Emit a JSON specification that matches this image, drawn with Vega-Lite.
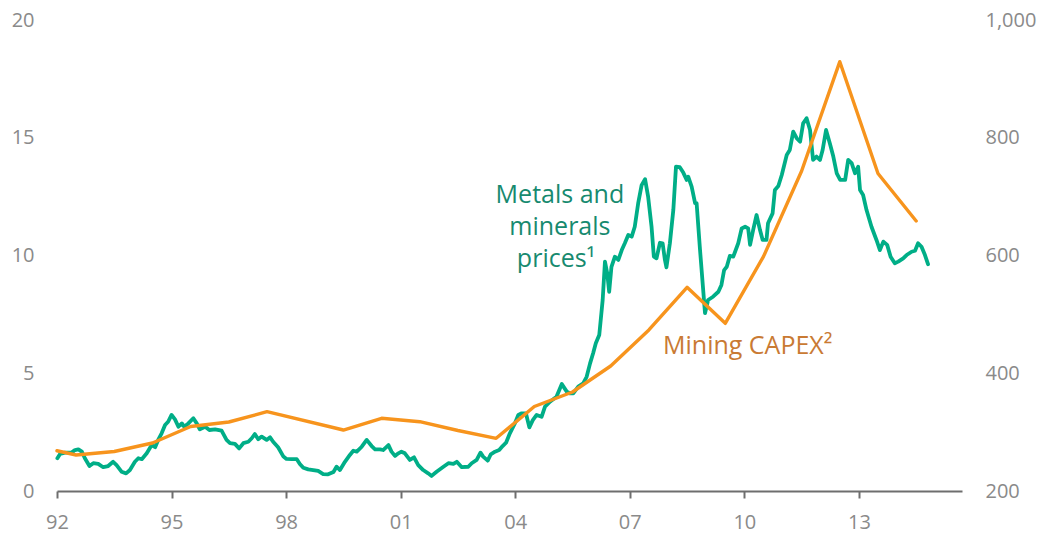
{
  "$schema": "https://vega.github.io/schema/vega-lite/v6.json",
  "width": 905,
  "height": 471,
  "autosize": {"type": "none"},
  "padding": {"left": 57, "top": 20, "right": 82, "bottom": 42},
  "background": "white",
  "config": {
    "view": {"stroke": null},
    "font": "Open Sans",
    "axis": {"labelFont": "Open Sans", "labelFontSize": 20, "labelColor": "#8a8a8a", "grid": false, "title": null}
  },
  "datasets": {
    "metals": [
      {"year": 1992.01, "price": 1.39}, {"year": 1992.08, "price": 1.57}, {"year": 1992.21, "price": 1.63}, {"year": 1992.38, "price": 1.63},
      {"year": 1992.47, "price": 1.74}, {"year": 1992.56, "price": 1.77}, {"year": 1992.65, "price": 1.67}, {"year": 1992.73, "price": 1.39},
      {"year": 1992.85, "price": 1.06}, {"year": 1992.95, "price": 1.18}, {"year": 1993.08, "price": 1.15}, {"year": 1993.21, "price": 1.01},
      {"year": 1993.34, "price": 1.06}, {"year": 1993.47, "price": 1.24}, {"year": 1993.56, "price": 1.1}, {"year": 1993.69, "price": 0.82},
      {"year": 1993.81, "price": 0.75}, {"year": 1993.91, "price": 0.89}, {"year": 1994.04, "price": 1.24}, {"year": 1994.13, "price": 1.39},
      {"year": 1994.22, "price": 1.35}, {"year": 1994.35, "price": 1.6}, {"year": 1994.48, "price": 1.95}, {"year": 1994.57, "price": 1.86},
      {"year": 1994.65, "price": 2.17}, {"year": 1994.74, "price": 2.45}, {"year": 1994.83, "price": 2.8}, {"year": 1994.91, "price": 2.94},
      {"year": 1995.0, "price": 3.23}, {"year": 1995.09, "price": 3.04}, {"year": 1995.18, "price": 2.73}, {"year": 1995.27, "price": 2.87},
      {"year": 1995.33, "price": 2.73}, {"year": 1995.44, "price": 2.87}, {"year": 1995.57, "price": 3.09}, {"year": 1995.66, "price": 2.87},
      {"year": 1995.74, "price": 2.62}, {"year": 1995.88, "price": 2.73}, {"year": 1995.99, "price": 2.59}, {"year": 1996.14, "price": 2.62},
      {"year": 1996.31, "price": 2.56}, {"year": 1996.44, "price": 2.17}, {"year": 1996.53, "price": 2.03}, {"year": 1996.66, "price": 2.0},
      {"year": 1996.77, "price": 1.81}, {"year": 1996.88, "price": 2.03}, {"year": 1997.01, "price": 2.09}, {"year": 1997.1, "price": 2.24},
      {"year": 1997.18, "price": 2.42}, {"year": 1997.27, "price": 2.2}, {"year": 1997.36, "price": 2.31}, {"year": 1997.49, "price": 2.17},
      {"year": 1997.58, "price": 2.28}, {"year": 1997.66, "price": 2.09}, {"year": 1997.79, "price": 1.86}, {"year": 1997.93, "price": 1.46},
      {"year": 1998.01, "price": 1.36}, {"year": 1998.15, "price": 1.35}, {"year": 1998.28, "price": 1.35}, {"year": 1998.36, "price": 1.15},
      {"year": 1998.45, "price": 0.99}, {"year": 1998.58, "price": 0.92}, {"year": 1998.71, "price": 0.89}, {"year": 1998.84, "price": 0.85},
      {"year": 1998.97, "price": 0.72}, {"year": 1999.1, "price": 0.71}, {"year": 1999.24, "price": 0.81}, {"year": 1999.32, "price": 1.03},
      {"year": 1999.41, "price": 0.89}, {"year": 1999.54, "price": 1.24}, {"year": 1999.67, "price": 1.53}, {"year": 1999.76, "price": 1.71},
      {"year": 1999.85, "price": 1.67}, {"year": 1999.98, "price": 1.88}, {"year": 2000.11, "price": 2.17}, {"year": 2000.24, "price": 1.91},
      {"year": 2000.33, "price": 1.77}, {"year": 2000.46, "price": 1.77}, {"year": 2000.54, "price": 1.74}, {"year": 2000.68, "price": 1.95},
      {"year": 2000.76, "price": 1.67}, {"year": 2000.85, "price": 1.49}, {"year": 2000.94, "price": 1.6}, {"year": 2001.02, "price": 1.67},
      {"year": 2001.11, "price": 1.6}, {"year": 2001.24, "price": 1.32}, {"year": 2001.35, "price": 1.43}, {"year": 2001.46, "price": 1.1},
      {"year": 2001.59, "price": 0.89}, {"year": 2001.72, "price": 0.75}, {"year": 2001.81, "price": 0.64}, {"year": 2001.94, "price": 0.82},
      {"year": 2002.12, "price": 1.03}, {"year": 2002.25, "price": 1.18}, {"year": 2002.38, "price": 1.15}, {"year": 2002.47, "price": 1.24},
      {"year": 2002.6, "price": 1.01}, {"year": 2002.77, "price": 1.03}, {"year": 2002.86, "price": 1.18}, {"year": 2002.99, "price": 1.32},
      {"year": 2003.09, "price": 1.63}, {"year": 2003.16, "price": 1.46}, {"year": 2003.28, "price": 1.29}, {"year": 2003.36, "price": 1.56},
      {"year": 2003.47, "price": 1.67}, {"year": 2003.58, "price": 1.74}, {"year": 2003.67, "price": 1.91}, {"year": 2003.76, "price": 2.05},
      {"year": 2003.86, "price": 2.45}, {"year": 2003.99, "price": 2.87}, {"year": 2004.08, "price": 3.23}, {"year": 2004.17, "price": 3.3},
      {"year": 2004.28, "price": 3.3}, {"year": 2004.37, "price": 2.7}, {"year": 2004.46, "price": 3.01}, {"year": 2004.56, "price": 3.23},
      {"year": 2004.69, "price": 3.15}, {"year": 2004.78, "price": 3.58}, {"year": 2004.91, "price": 3.79}, {"year": 2005.08, "price": 4.0},
      {"year": 2005.22, "price": 4.54}, {"year": 2005.35, "price": 4.22}, {"year": 2005.43, "price": 4.15}, {"year": 2005.52, "price": 4.15},
      {"year": 2005.65, "price": 4.43}, {"year": 2005.78, "price": 4.57}, {"year": 2005.87, "price": 4.85}, {"year": 2005.96, "price": 5.42},
      {"year": 2006.04, "price": 5.85}, {"year": 2006.11, "price": 6.27}, {"year": 2006.2, "price": 6.62}, {"year": 2006.29, "price": 8.11},
      {"year": 2006.35, "price": 9.74}, {"year": 2006.41, "price": 9.24}, {"year": 2006.46, "price": 8.46}, {"year": 2006.52, "price": 9.52},
      {"year": 2006.61, "price": 9.95}, {"year": 2006.7, "price": 9.81}, {"year": 2006.79, "price": 10.23}, {"year": 2006.87, "price": 10.52},
      {"year": 2006.96, "price": 10.87}, {"year": 2007.05, "price": 10.8}, {"year": 2007.13, "price": 11.22}, {"year": 2007.22, "price": 12.22},
      {"year": 2007.31, "price": 12.99}, {"year": 2007.4, "price": 13.24}, {"year": 2007.48, "price": 12.5}, {"year": 2007.57, "price": 11.22},
      {"year": 2007.63, "price": 9.95}, {"year": 2007.7, "price": 9.88}, {"year": 2007.79, "price": 10.54}, {"year": 2007.86, "price": 10.52},
      {"year": 2007.92, "price": 9.81}, {"year": 2007.96, "price": 9.5}, {"year": 2008.05, "price": 10.52}, {"year": 2008.14, "price": 11.93},
      {"year": 2008.21, "price": 13.77}, {"year": 2008.31, "price": 13.75}, {"year": 2008.4, "price": 13.52}, {"year": 2008.49, "price": 13.21},
      {"year": 2008.53, "price": 13.35}, {"year": 2008.62, "price": 12.92}, {"year": 2008.71, "price": 12.22}, {"year": 2008.75, "price": 12.22},
      {"year": 2008.84, "price": 10.23}, {"year": 2008.97, "price": 7.55}, {"year": 2009.05, "price": 8.11}, {"year": 2009.18, "price": 8.25},
      {"year": 2009.32, "price": 8.46}, {"year": 2009.4, "price": 8.75}, {"year": 2009.47, "price": 9.38}, {"year": 2009.54, "price": 9.52},
      {"year": 2009.62, "price": 9.98}, {"year": 2009.71, "price": 9.95}, {"year": 2009.84, "price": 10.52}, {"year": 2009.93, "price": 11.15},
      {"year": 2010.02, "price": 11.22}, {"year": 2010.1, "price": 11.15}, {"year": 2010.15, "price": 10.45}, {"year": 2010.23, "price": 11.08},
      {"year": 2010.32, "price": 11.72}, {"year": 2010.41, "price": 11.08}, {"year": 2010.48, "price": 10.66}, {"year": 2010.58, "price": 10.66},
      {"year": 2010.62, "price": 11.37}, {"year": 2010.74, "price": 11.79}, {"year": 2010.8, "price": 12.78}, {"year": 2010.89, "price": 12.95},
      {"year": 2010.98, "price": 13.42}, {"year": 2011.11, "price": 14.27}, {"year": 2011.19, "price": 14.48}, {"year": 2011.28, "price": 15.26},
      {"year": 2011.37, "price": 14.98}, {"year": 2011.46, "price": 14.83}, {"year": 2011.54, "price": 15.61}, {"year": 2011.63, "price": 15.83},
      {"year": 2011.72, "price": 15.33}, {"year": 2011.8, "price": 14.06}, {"year": 2011.89, "price": 14.2}, {"year": 2011.98, "price": 14.06},
      {"year": 2012.05, "price": 14.48}, {"year": 2012.14, "price": 15.33}, {"year": 2012.24, "price": 14.76}, {"year": 2012.33, "price": 14.2},
      {"year": 2012.42, "price": 13.49}, {"year": 2012.51, "price": 13.21}, {"year": 2012.64, "price": 13.21}, {"year": 2012.72, "price": 14.06},
      {"year": 2012.81, "price": 13.92}, {"year": 2012.9, "price": 13.49}, {"year": 2012.98, "price": 13.77}, {"year": 2013.03, "price": 12.78},
      {"year": 2013.11, "price": 12.57}, {"year": 2013.2, "price": 11.93}, {"year": 2013.33, "price": 11.22}, {"year": 2013.46, "price": 10.66},
      {"year": 2013.55, "price": 10.23}, {"year": 2013.64, "price": 10.59}, {"year": 2013.74, "price": 10.45}, {"year": 2013.83, "price": 9.95},
      {"year": 2013.94, "price": 9.67}, {"year": 2014.03, "price": 9.74}, {"year": 2014.16, "price": 9.88}, {"year": 2014.25, "price": 10.02},
      {"year": 2014.38, "price": 10.16}, {"year": 2014.47, "price": 10.2}, {"year": 2014.55, "price": 10.52}, {"year": 2014.64, "price": 10.37},
      {"year": 2014.73, "price": 10.02}, {"year": 2014.81, "price": 9.63}
    ],
    "capex": [
      {"year": 1992.0, "capex": 268.4}, {"year": 1992.5, "capex": 261.1}, {"year": 1993.5, "capex": 267.1}, {"year": 1994.5, "capex": 281.5},
      {"year": 1995.5, "capex": 309.6}, {"year": 1996.5, "capex": 317.2}, {"year": 1997.5, "capex": 334.7}, {"year": 1999.5, "capex": 303.6},
      {"year": 2000.5, "capex": 323.5}, {"year": 2001.5, "capex": 317.7}, {"year": 2002.5, "capex": 302.8}, {"year": 2003.5, "capex": 289.5},
      {"year": 2004.5, "capex": 343.5}, {"year": 2005.5, "capex": 368.2}, {"year": 2006.5, "capex": 412.3}, {"year": 2007.5, "capex": 473.5},
      {"year": 2008.5, "capex": 546.0}, {"year": 2009.5, "capex": 484.8}, {"year": 2010.5, "capex": 598.0}, {"year": 2011.5, "capex": 743.5},
      {"year": 2012.5, "capex": 929.2}, {"year": 2013.5, "capex": 739.3}, {"year": 2014.5, "capex": 658.6}
    ],
    "metalLabels": [
      {"year": 2005.17, "price": 12.21, "label": "Metals and"},
      {"year": 2005.17, "price": 10.87, "label": "minerals"},
      {"year": 2005.07, "price": 9.53, "label": "prices¹"}
    ],
    "capexLabels": [
      {"year": 2007.87, "price": 5.82, "label": "Mining CAPEX²"}
    ]
  },
  "layer": [
    {
      "data": {"name": "metals"},
      "mark": {"type": "line", "color": "#00ae87", "strokeWidth": 3.8, "strokeJoin": "round", "strokeCap": "round"},
      "encoding": {
        "x": {
          "field": "year", "type": "quantitative",
          "scale": {"domain": [1992, 2015.7], "nice": false, "zero": false},
          "axis": {
            "values": [1992, 1995, 1998, 2001, 2004, 2007, 2010, 2013],
            "labelExpr": "slice(toString(datum.value), 2)",
            "domainColor": "#6e6e6e", "domainWidth": 2,
            "tickColor": "#6e6e6e", "tickWidth": 2, "tickSize": 7,
            "labelPadding": 14, "labelFlush": false
          }
        },
        "y": {
          "field": "price", "type": "quantitative",
          "scale": {"domain": [0, 20], "nice": false},
          "axis": {"orient": "left", "values": [0, 5, 10, 15, 20], "domain": false, "ticks": false, "labelPadding": 23}
        }
      }
    },
    {
      "data": {"name": "capex"},
      "mark": {"type": "line", "color": "#f7941d", "strokeWidth": 3.4, "strokeJoin": "round", "strokeCap": "round"},
      "encoding": {
        "x": {"field": "year", "type": "quantitative"},
        "y": {
          "field": "capex", "type": "quantitative",
          "scale": {"domain": [200, 1000], "nice": false, "zero": false},
          "axis": {"orient": "right", "values": [200, 400, 600, 800, 1000], "format": ",d", "domain": false, "ticks": false, "labelPadding": 23}
        }
      }
    },
    {
      "data": {"name": "metalLabels"},
      "mark": {"type": "text", "color": "#178a6f", "fontSize": 25, "align": "center", "baseline": "alphabetic", "font": "Open Sans"},
      "encoding": {
        "x": {"field": "year", "type": "quantitative"},
        "y": {"field": "price", "type": "quantitative", "scale": {"domain": [0, 20], "nice": false}, "axis": null},
        "text": {"field": "label"}
      }
    },
    {
      "data": {"name": "capexLabels"},
      "mark": {"type": "text", "color": "#c97a33", "fontSize": 25, "align": "left", "baseline": "alphabetic", "font": "Open Sans"},
      "encoding": {
        "x": {"field": "year", "type": "quantitative"},
        "y": {"field": "price", "type": "quantitative", "scale": {"domain": [0, 20], "nice": false}, "axis": null},
        "text": {"field": "label"}
      }
    }
  ],
  "resolve": {"scale": {"y": "independent"}}
}
